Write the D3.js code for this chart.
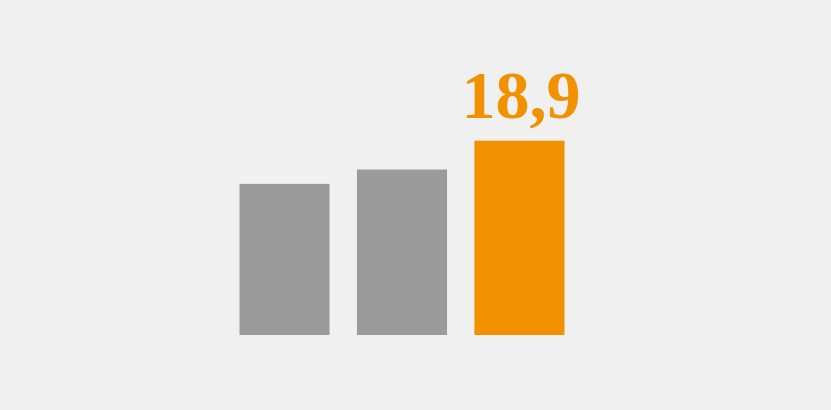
<!DOCTYPE html>
<html>
<head>
<meta charset="utf-8">
<script src="https://cdn.jsdelivr.net/npm/d3@7"></script>
<style>
  html, body { margin: 0; padding: 0; background: #f0f0f0; }
  svg { display: block; }
</style>
</head>
<body>
<script>
/** data */
const categories = ["2019", "2020", "2021"];
const values = [14.7, 16.1, 18.9];
const highlight = "2021";

/** layout */
const width = 831;
const height = 410;
const baseY = 335;
const topY = 140.7;
const grey = "#9b9b9b";
const orange = "#f29100";

const svg = d3.select("body").append("svg")
    .attr("width", width)
    .attr("height", height);

svg.append("rect")
    .attr("width", width)
    .attr("height", height)
    .attr("fill", "#f0f0f0");

const x_scale = d3.scaleBand()
    .domain(categories)
    .range([239.5, 564.5])
    .paddingInner(0.233)
    .paddingOuter(0);

const y_scale = d3.scaleLinear()
    .domain([0, d3.max(values)])
    .range([baseY, topY]);

// German style decimal comma
const fmt = d3.formatLocale({ decimal: ",", thousands: ".", grouping: [3], currency: ["", " €"] }).format(".1f");

const data = categories.map((c, i) => ({ cat: c, val: values[i] }));

svg.selectAll("rect.bar")
    .data(data)
    .enter()
    .append("rect")
    .attr("class", "bar")
    .attr("x", d => x_scale(d.cat))
    .attr("y", d => y_scale(d.val))
    .attr("width", x_scale.bandwidth())
    .attr("height", d => baseY - y_scale(d.val))
    .attr("fill", d => d.cat === highlight ? orange : grey);

// value label only on the highlighted bar
svg.selectAll("text.label")
    .data(data.filter(d => d.cat === highlight))
    .enter()
    .append("text")
    .attr("class", "label")
    .attr("x", d => x_scale(d.cat) + x_scale.bandwidth() / 2 + 1.5)
    .attr("y", d => y_scale(d.val) - 22.5)
    .attr("text-anchor", "middle")
    .attr("font-family", "'Liberation Serif', 'DejaVu Serif', serif")
    .attr("font-weight", "bold")
    .attr("font-size", 68)
    .attr("fill", orange)
    .text(d => fmt(d.val));
</script>
</body>
</html>
